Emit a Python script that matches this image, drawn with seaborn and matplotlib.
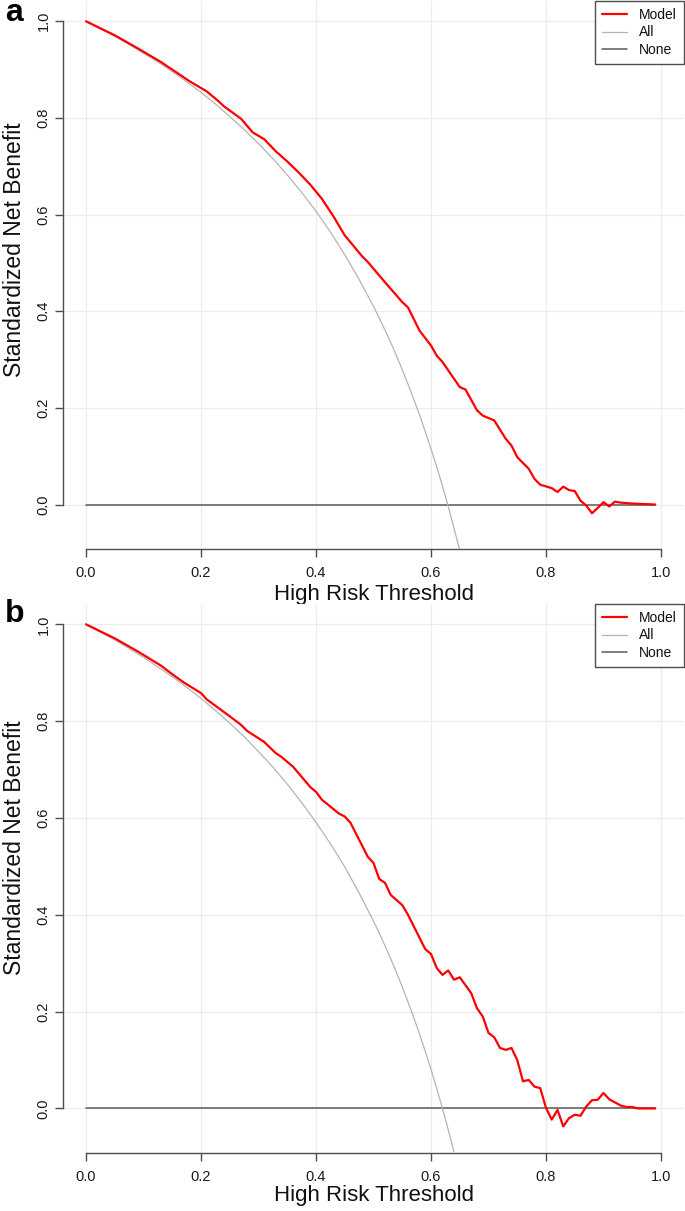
import matplotlib
matplotlib.use("Agg")
import matplotlib.pyplot as plt
import seaborn as sns
import pandas as pd

# ---------------- data ----------------
thr_model_a = [0.00, 0.05, 0.09, 0.13, 0.15, 0.18, 0.21, 0.23, 0.24, 0.27, 0.29, 0.31,
               0.33, 0.35, 0.37, 0.39, 0.41, 0.43, 0.45, 0.48, 0.49, 0.51, 0.52, 0.55,
               0.56, 0.58, 0.60, 0.61, 0.62, 0.65, 0.66, 0.68, 0.69, 0.71, 0.73, 0.74,
               0.75, 0.77, 0.78, 0.79, 0.81, 0.82, 0.83, 0.84, 0.85, 0.86, 0.87, 0.88,
               0.89, 0.90, 0.91, 0.92, 0.93, 0.95, 0.99]
snb_model_a = [1.000, 0.971, 0.944, 0.916, 0.900, 0.876, 0.855, 0.835, 0.824, 0.798, 0.770, 0.756,
               0.731, 0.710, 0.687, 0.662, 0.633, 0.597, 0.557, 0.514, 0.502, 0.474, 0.460, 0.419,
               0.408, 0.360, 0.329, 0.308, 0.295, 0.243, 0.238, 0.195, 0.184, 0.174, 0.136, 0.122,
               0.098, 0.074, 0.053, 0.041, 0.034, 0.026, 0.037, 0.030, 0.028, 0.008, -0.002, -0.018,
               -0.007, 0.005, -0.004, 0.006, 0.004, 0.002, 0.000]

thr_all_a = [0.000, 0.025, 0.050, 0.075, 0.100, 0.125, 0.150, 0.175, 0.200, 0.225, 0.250,
             0.275, 0.300, 0.325, 0.350, 0.375, 0.400, 0.425, 0.450, 0.475, 0.500,
             0.51, 0.52, 0.53, 0.54, 0.55, 0.56, 0.57, 0.58, 0.59, 0.60, 0.61, 0.62,
             0.63, 0.64, 0.645, 0.65]
snb_all_a = [1.000, 0.985, 0.969, 0.952, 0.934, 0.916, 0.896, 0.875, 0.853, 0.829, 0.803,
             0.776, 0.747, 0.716, 0.682, 0.646, 0.607, 0.564, 0.517, 0.466, 0.410,
             0.386, 0.361, 0.335, 0.308, 0.279, 0.249, 0.218, 0.186, 0.151, 0.115, 0.078, 0.038,
             -0.004, -0.049, -0.072, -0.095]

thr_model_b = [0.00, 0.05, 0.09, 0.13, 0.15, 0.17, 0.20, 0.21, 0.25, 0.27, 0.28, 0.31,
               0.33, 0.34, 0.36, 0.39, 0.40, 0.41, 0.44, 0.45, 0.46, 0.49, 0.50, 0.51,
               0.52, 0.53, 0.55, 0.56, 0.59, 0.60, 0.61, 0.62, 0.63, 0.64, 0.65, 0.67,
               0.68, 0.69, 0.70, 0.71, 0.72, 0.73, 0.74, 0.75, 0.76, 0.77, 0.78, 0.79,
               0.80, 0.81, 0.82, 0.83, 0.84, 0.85, 0.86, 0.87, 0.88, 0.89, 0.90, 0.91,
               0.93, 0.94, 0.95, 0.96, 0.99]
snb_model_b = [1.000, 0.971, 0.944, 0.915, 0.897, 0.880, 0.858, 0.845, 0.810, 0.792, 0.780, 0.757,
               0.734, 0.726, 0.706, 0.664, 0.654, 0.638, 0.609, 0.603, 0.590, 0.520, 0.507, 0.474,
               0.466, 0.441, 0.420, 0.400, 0.329, 0.319, 0.290, 0.276, 0.285, 0.266, 0.271, 0.238,
               0.207, 0.190, 0.156, 0.147, 0.125, 0.121, 0.125, 0.100, 0.056, 0.059, 0.045, 0.042,
               0.001, -0.023, -0.003, -0.037, -0.020, -0.013, -0.015, 0.004, 0.017, 0.018, 0.032, 0.019,
               0.006, 0.003, 0.003, 0.000, 0.000]

thr_all_b = [0.000, 0.025, 0.050, 0.075, 0.100, 0.125, 0.150, 0.175, 0.200, 0.225, 0.250,
             0.275, 0.300, 0.325, 0.350, 0.375, 0.400, 0.425, 0.450, 0.475, 0.500,
             0.51, 0.52, 0.53, 0.54, 0.55, 0.56, 0.57, 0.58, 0.59, 0.60, 0.61, 0.62,
             0.63, 0.64]
snb_all_b = [1.000, 0.984, 0.968, 0.950, 0.932, 0.912, 0.892, 0.870, 0.847, 0.822, 0.796,
             0.768, 0.737, 0.705, 0.670, 0.632, 0.591, 0.547, 0.499, 0.445, 0.387,
             0.362, 0.336, 0.309, 0.281, 0.251, 0.220, 0.188, 0.154, 0.118, 0.081, 0.041, 0.000,
             -0.044, -0.090]

thr_none = [0.00, 0.99]
snb_none = [0.0, 0.0]

panel_labels = ["a", "b"]
tick_vals = [0.0, 0.2, 0.4, 0.6, 0.8, 1.0]
tick_labels = ["0.0", "0.2", "0.4", "0.6", "0.8", "1.0"]
series_names = ["Model", "All", "None"]
xlabel_text = "High Risk Threshold"
ylabel_text = "Standardized Net Benefit"

# ---------------- style ----------------
sns.set_theme(style="white")
plt.rcParams['font.family'] = ['Liberation Sans', 'DejaVu Sans']

W, H = 685, 1211
fig = plt.figure(figsize=(W / 100, H / 100), dpi=100)

AX_COL = "#4d4d4d"
RED = "#ff0000"
ALL_COL = "#b4b4b4"
NONE_COL = "#5a5a5a"

panels = [
    dict(top=1, bottom=549, tm=thr_model_a, vm=snb_model_a, ta=thr_all_a, va=snb_all_a,
         ylab_y=250, xlab_y=594, lab_base=21),
    dict(top=604, bottom=1153, tm=thr_model_b, vm=snb_model_b, ta=thr_all_b, va=snb_all_b,
         ylab_y=848, xlab_y=1195, lab_base=622),
]

left_px, right_px = 63, 684
for i, p in enumerate(panels):
    ax = fig.add_axes([left_px / W, 1 - p["bottom"] / H,
                       (right_px - left_px) / W, (p["bottom"] - p["top"]) / H])
    ax.set_xlim(-0.04, 1.04)
    ax.set_ylim(-0.092, 1.042)

    # grid
    for v in tick_vals:
        ax.axvline(v, color="#ececec", lw=0.9, zorder=0)
        ax.axhline(v, color="#ececec", lw=0.9, zorder=0)

    dm = pd.DataFrame({"t": p["tm"], "v": p["vm"]})
    da = pd.DataFrame({"t": p["ta"], "v": p["va"]})
    dn = pd.DataFrame({"t": thr_none, "v": snb_none})

    sns.lineplot(data=dm, x="t", y="v", ax=ax, color=RED, lw=1.6,
                 label=series_names[0], estimator=None, sort=False, zorder=4)
    sns.lineplot(data=da, x="t", y="v", ax=ax, color=ALL_COL, lw=0.9,
                 label=series_names[1], estimator=None, sort=False, zorder=3)
    sns.lineplot(data=dn, x="t", y="v", ax=ax, color=NONE_COL, lw=1.1,
                 label=series_names[2], estimator=None, sort=False, zorder=2)

    # axes in R base style
    for s in ["top", "right"]:
        ax.spines[s].set_visible(False)
    for s in ["left", "bottom"]:
        ax.spines[s].set_color(AX_COL)
        ax.spines[s].set_linewidth(1.0)
        ax.spines[s].set_bounds(0, 1)
    ax.set_xticks(tick_vals)
    ax.set_xticklabels(tick_labels)
    ax.set_yticks(tick_vals)
    ax.set_yticklabels(tick_labels, rotation=90, va="center")
    ax.tick_params(axis="both", direction="out", length=5.5, width=1.0, color=AX_COL,
                   labelsize=10.5, labelcolor="#1a1a1a", bottom=True, left=True)
    ax.tick_params(axis="x", pad=6.5)
    ax.tick_params(axis="y", pad=3.5)

    ax.set_xlabel(xlabel_text, fontsize=16, color="#111111")
    ax.xaxis.set_label_coords(0.5, (p["bottom"] - p["xlab_y"]) / (p["bottom"] - p["top"]))
    ax.xaxis.label.set_va("center")
    ax.set_ylabel(ylabel_text, fontsize=16.5, color="#111111")
    ax.yaxis.set_label_coords((15 - left_px) / (right_px - left_px),
                              (p["bottom"] - p["ylab_y"]) / (p["bottom"] - p["top"]))
    ax.yaxis.label.set_va("center")

    leg = ax.legend(loc="upper right", borderaxespad=0, frameon=True, fancybox=False,
                    fontsize=10, handlelength=1.8, handletextpad=0.9, labelspacing=0.25,
                    borderpad=0.5, framealpha=1)
    leg.get_frame().set_edgecolor(AX_COL)
    leg.get_frame().set_linewidth(1.0)
    for t in leg.get_texts():
        t.set_color("#111111")

    fig.text(5 / W, 1 - p["lab_base"] / H, panel_labels[i], fontsize=23, fontweight="bold",
             ha="left", va="baseline", color="black")

fig.savefig("out.png", dpi=100)
